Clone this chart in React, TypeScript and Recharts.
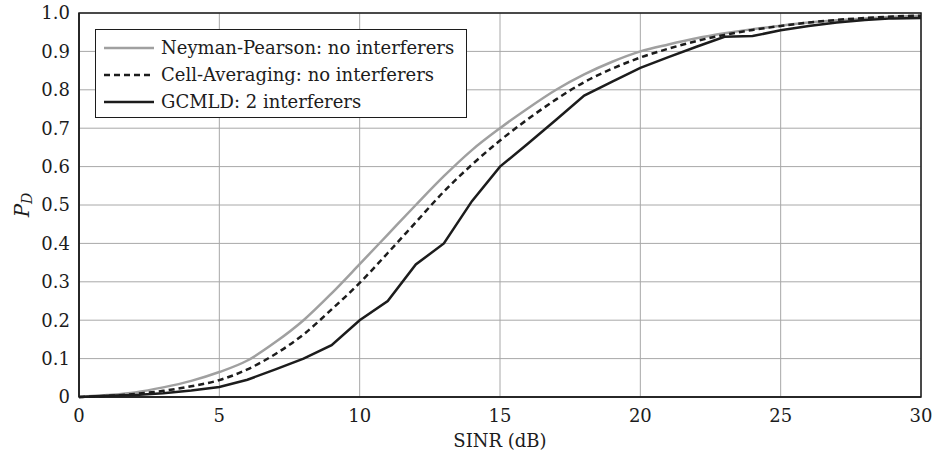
import {
  CartesianGrid,
  Line,
  LineChart,
  ReferenceArea,
  XAxis,
  YAxis,
} from 'recharts';

// SINR in dB, one point per dB
const sinr = [
  0, 1, 2, 3, 4, 5, 6, 7, 8, 9, 10, 11, 12, 13, 14, 15, 16, 17, 18, 19, 20, 21, 22, 23, 24, 25, 26,
  27, 28, 29, 30,
];

const neymanPearson = [
  0.0, 0.005, 0.012, 0.025, 0.042, 0.065, 0.095, 0.143, 0.2, 0.27, 0.346, 0.423, 0.5, 0.575, 0.643,
  0.7, 0.752, 0.8, 0.84, 0.873, 0.9, 0.918, 0.934, 0.947, 0.958, 0.967, 0.975, 0.981, 0.986, 0.99,
  0.993,
];

const cellAveraging = [
  0.0, 0.003, 0.008, 0.016, 0.028, 0.044, 0.072, 0.112, 0.163, 0.228, 0.297, 0.375, 0.455, 0.535,
  0.605, 0.668, 0.724, 0.775, 0.82, 0.855, 0.884, 0.907, 0.927, 0.943, 0.956, 0.966, 0.975, 0.982,
  0.987, 0.991, 0.993,
];

const gcmld = [
  0.0, 0.003, 0.005, 0.01, 0.017, 0.026, 0.045, 0.072, 0.1, 0.135, 0.2, 0.25, 0.345, 0.4, 0.51,
  0.6, 0.66, 0.722, 0.785, 0.821, 0.857, 0.885, 0.912, 0.938, 0.94, 0.955, 0.966, 0.975, 0.982,
  0.986, 0.987,
];

const xTicks = [0, 5, 10, 15, 20, 25, 30];
const yTicks = [0, 0.1, 0.2, 0.3, 0.4, 0.5, 0.6, 0.7, 0.8, 0.9, 1.0];

const seriesNames = [
  'Neyman-Pearson: no interferers',
  'Cell-Averaging: no interferers',
  'GCMLD: 2 interferers',
];

const FONT = '"DejaVu Serif", serif';
const GRAY = '#a0a0a0';
const INK = '#1c1c1c';

const data = sinr.map((x, i) => ({
  x,
  np: neymanPearson[i],
  ca: cellAveraging[i],
  gc: gcmld[i],
}));

const legendItems = [
  { name: seriesNames[0], color: GRAY, dash: undefined },
  { name: seriesNames[1], color: INK, dash: '6 4' },
  { name: seriesNames[2], color: INK, dash: undefined },
];

// drawn over the plot, so it does not take space from the chart like <Legend> would
const LegendBox = () => (
  <div
    style={{
      position: 'absolute',
      left: 95,
      top: 29,
      boxSizing: 'border-box',
      width: 372,
      height: 89,
      border: `1.5px solid ${INK}`,
      background: '#fff',
      padding: '4px 8px',
      fontFamily: FONT,
      fontSize: 18,
      color: INK,
    }}
  >
    {legendItems.map((it) => (
      <div key={it.name} style={{ display: 'flex', alignItems: 'center', height: 27 }}>
        <svg width={50} height={10} style={{ marginRight: 7 }}>
          <line
            x1={0}
            y1={5}
            x2={50}
            y2={5}
            stroke={it.color}
            strokeWidth={2.5}
            strokeDasharray={it.dash}
          />
        </svg>
        <span>{it.name}</span>
      </div>
    ))}
  </div>
);

const PdLabel = () => (
  <text
    x={22}
    y={205}
    transform="rotate(-90 22 205)"
    textAnchor="middle"
    dominantBaseline="central"
    fontFamily={FONT}
    fontSize={20}
    fontStyle="italic"
    fill={INK}
  >
    P
    <tspan fontSize={14} dy={5}>
      D
    </tspan>
  </text>
);

const App = () => (
  <div style={{ position: 'absolute', left: 0, top: 0, background: '#fff' }}>
    <LineChart
      width={935}
      height={458}
      data={data}
      margin={{ top: 13, right: 14, bottom: 0, left: 0 }}
    >
      <CartesianGrid stroke="#a8a8a8" strokeWidth={1} />
      <XAxis
        dataKey="x"
        type="number"
        domain={[0, 30]}
        ticks={xTicks}
        height={61}
        tickLine={false}
        tickSize={0}
        tickMargin={12}
        axisLine={{ stroke: INK, strokeWidth: 1.5 }}
        tick={{ fontSize: 18, fill: INK, fontFamily: FONT }}
        label={{
          value: 'SINR (dB)',
          position: 'insideBottom',
          offset: 11,
          fill: INK,
          fontSize: 18,
          fontFamily: FONT,
        }}
      />
      <YAxis
        type="number"
        domain={[0, 1]}
        ticks={yTicks}
        width={79}
        tickLine={false}
        tickSize={0}
        tickMargin={9}
        axisLine={{ stroke: INK, strokeWidth: 1.5 }}
        tick={{ fontSize: 18, fill: INK, fontFamily: FONT }}
        tickFormatter={(v: number) => (v === 0 ? '0' : v.toFixed(1))}
        label={<PdLabel />}
      />
      <ReferenceArea x1={0} x2={30} y1={0} y2={1} fill="none" stroke={INK} strokeWidth={1.5} />
      <Line
        dataKey="np"
        name={seriesNames[0]}
        type="monotone"
        stroke={GRAY}
        strokeWidth={2.5}
        dot={false}
        isAnimationActive={false}
      />
      <Line
        dataKey="ca"
        name={seriesNames[1]}
        type="monotone"
        stroke={INK}
        strokeWidth={2.5}
        strokeDasharray="6 4"
        dot={false}
        isAnimationActive={false}
      />
      <Line
        dataKey="gc"
        name={seriesNames[2]}
        type="linear"
        stroke={INK}
        strokeWidth={2.5}
        dot={false}
        isAnimationActive={false}
      />
    </LineChart>
    <LegendBox />
  </div>
);

export default App;
